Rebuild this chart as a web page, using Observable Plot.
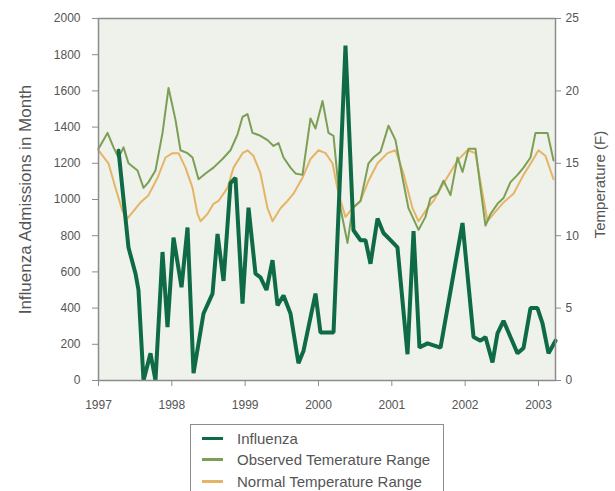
<!DOCTYPE html>
<html>
<head>
<meta charset="utf-8">
<script src="https://cdn.jsdelivr.net/npm/d3@7"></script>
<script src="https://cdn.jsdelivr.net/npm/@observablehq/plot@0.6"></script>
<style>
  html, body { margin: 0; padding: 0; background: #fff; }
  #wrap { position: relative; width: 615px; height: 491px; overflow: hidden; background: #fff;
          font-family: "Liberation Sans", Arial, sans-serif; color: #555; }
  #legend { position: absolute; left: 190px; top: 424px; width: 254px; height: 80px;
            border: 1.5px solid #8c8c8c; box-sizing: border-box; background: #fff; }
  .row { position: absolute; left: 0; height: 20px; display: flex; align-items: center; font-size: 15px; color: #555; white-space: nowrap; }
  .sw { width: 21px; height: 0; margin-left: 11px; margin-right: 14px; }
</style>
</head>
<body>
<div id="wrap"><div id="chart"></div>
  <div id="legend"></div>
</div>
<script>
// ---------- data ----------
const fluYear = [1997.273,1997.409,1997.505,1997.545,1997.614,1997.709,1997.777,1997.873,1997.941,1998.023,
  1998.132,1998.214,1998.296,1998.432,1998.555,1998.623,1998.705,1998.800,1998.868,1998.964,
  1999.046,1999.141,1999.209,1999.291,1999.373,1999.441,1999.523,1999.618,1999.727,1999.796,
  1999.959,2000.027,2000.205,2000.368,2000.477,2000.573,2000.641,2000.709,2000.805,2000.886,
  2000.982,2001.077,2001.214,2001.296,2001.377,2001.486,2001.664,2001.964,2002.114,2002.209,
  2002.277,2002.373,2002.441,2002.523,2002.618,2002.714,2002.796,2002.891,2002.986,2003.055,
  2003.137,2003.232];
const fluValue = [1270,735,590,500,0,150,0,710,295,790,
  515,845,40,370,480,810,550,1090,1120,425,
  955,590,570,500,665,415,470,370,95,165,
  480,265,265,1850,830,775,775,645,895,815,
  775,735,145,825,182,205,182,870,240,220,
  240,100,260,330,240,150,180,400,400,315,
  150,220];

const obsYear = [1997.000,1997.123,1997.205,1997.273,1997.341,1997.409,1997.532,1997.614,1997.682,1997.777,
  1997.873,1997.955,1998.050,1998.118,1998.214,1998.282,1998.364,1998.459,1998.568,1998.691,
  1998.800,1998.896,1998.964,1999.032,1999.100,1999.209,1999.305,1999.386,1999.455,1999.523,
  1999.618,1999.686,1999.782,1999.891,1999.959,2000.055,2000.136,2000.205,2000.300,2000.396,
  2000.464,2000.573,2000.682,2000.750,2000.846,2000.955,2001.050,2001.146,2001.227,2001.364,
  2001.459,2001.527,2001.623,2001.705,2001.800,2001.896,2001.964,2002.046,2002.141,2002.209,
  2002.277,2002.346,2002.441,2002.523,2002.618,2002.714,2002.796,2002.891,2002.959,2003.055,
  2003.123,2003.205];
const obsTemp = [16.0,17.1,16.1,15.4,16.1,15.0,14.5,13.3,13.7,14.5,
  17.1,20.2,18.0,15.9,15.7,15.4,13.9,14.3,14.7,15.3,
  15.9,17.0,18.2,18.4,17.1,16.9,16.6,16.2,16.4,15.4,
  14.7,14.3,14.2,18.1,17.4,19.3,17.1,16.9,11.9,9.5,
  11.9,12.4,15.0,15.4,15.8,17.6,16.6,14.0,11.9,10.4,
  11.3,12.6,12.9,13.8,12.8,15.4,14.4,16.0,16.0,13.3,
  10.7,11.5,12.2,12.6,13.7,14.2,14.7,15.4,17.1,17.1,
  17.1,15.2];

const normYear = [1997.000,1997.136,1997.232,1997.327,1997.395,1997.477,1997.573,1997.682,1997.805,1997.914,
  1998.009,1998.091,1998.186,1998.282,1998.350,1998.391,1998.486,1998.568,1998.636,1998.759,
  1998.841,1998.964,1999.032,1999.114,1999.209,1999.305,1999.373,1999.482,1999.577,1999.659,
  1999.782,1999.891,2000.000,2000.096,2000.191,2000.273,2000.368,2000.464,2000.573,2000.682,
  2000.805,2000.941,2001.050,2001.159,2001.282,2001.364,2001.486,2001.568,2001.705,2001.896,
  2002.032,2002.141,2002.237,2002.305,2002.387,2002.523,2002.659,2002.796,2002.918,2003.000,
  2003.096,2003.205];
const normTemp = [15.9,15.0,13.3,11.7,11.2,11.7,12.3,12.8,14.0,15.4,
  15.7,15.7,14.7,13.3,11.5,11.0,11.5,12.2,12.4,13.3,
  14.7,15.7,15.9,15.5,14.3,11.9,11.0,11.9,12.4,12.9,
  14.0,15.3,15.9,15.7,15.0,12.9,11.3,11.9,12.4,13.8,
  15.0,15.7,15.9,14.3,11.9,11.0,11.9,12.4,13.6,15.2,
  15.9,15.7,12.9,11.0,11.5,12.3,12.9,14.2,15.2,15.9,
  15.5,13.9];

const xTicks = [1997, 1998, 1999, 2000, 2001, 2002, 2003];
const leftTicks = [0, 200, 400, 600, 800, 1000, 1200, 1400, 1600, 1800, 2000];
const rightTicks = [0, 5, 10, 15, 20, 25];
const seriesNames = ["Influenza", "Observed Temerature Range", "Normal Temperature Range"];
const seriesColors = ["#0f6a46", "#7c9f55", "#e6b466"];
const leftLabel = "Influenza Admissions in Month";
const rightLabel = "Temperature (F)";

// ---------- build ----------
const K = 2000 / 25; // temperature -> admissions scale
const flu = fluYear.map((x, i) => ({x, y: fluValue[i]}));
const obs = obsYear.map((x, i) => ({x, y: obsTemp[i] * K}));
const norm = normYear.map((x, i) => ({x, y: normTemp[i] * K}));

const chart = Plot.plot({
  width: 615, height: 418,
  marginLeft: 98, marginRight: 60, marginTop: 18, marginBottom: 38,
  x: {domain: [1997, 2003.232]},
  y: {domain: [0, 2000]},
  style: {fontFamily: "'Liberation Sans', Arial, sans-serif", fontSize: "12px", color: "#555", background: "transparent", overflow: "visible"},
  marks: [
    Plot.frame({fill: "#eef2ea", stroke: null}),
    Plot.line(norm, {x: "x", y: "y", stroke: seriesColors[2], strokeWidth: 2}),
    Plot.line(obs, {x: "x", y: "y", stroke: seriesColors[1], strokeWidth: 2}),
    Plot.line(flu, {x: "x", y: "y", stroke: seriesColors[0], strokeWidth: 4, strokeLinejoin: "miter"}),
    Plot.frame({stroke: "#8c8c8c", strokeWidth: 1.5}),
    Plot.axisX({ticks: xTicks, tickFormat: "d", tickSize: 6, tickPadding: 14, label: null, stroke: "#8c8c8c"}),
    Plot.axisY({ticks: leftTicks, tickSize: 6, tickPadding: 12, label: null, tickFormat: "d", stroke: "#8c8c8c"}),
    Plot.axisY({anchor: "right", ticks: rightTicks.map(t => t * K), tickFormat: d => d / K, tickSize: 5, tickPadding: 5, label: null, stroke: "#8c8c8c"}),
    Plot.text([leftLabel], {frameAnchor: "left", textAnchor: "middle", rotate: -90, dx: -73, fontSize: 17, fill: "#555"}),
    Plot.text([rightLabel], {frameAnchor: "right", textAnchor: "middle", rotate: -90, dx: 45, dy: -15, fontSize: 15, fill: "#555"})
  ]
});
document.getElementById("chart").appendChild(chart);

const legend = document.getElementById("legend");
seriesNames.forEach((name, i) => {
  const row = document.createElement("div");
  row.className = "row";
  row.style.top = (3 + i * 21.5) + "px";
  const sw = document.createElement("div");
  sw.className = "sw";
  sw.style.borderTop = "3px solid " + seriesColors[i];
  const t = document.createElement("span");
  t.textContent = name;
  row.appendChild(sw); row.appendChild(t);
  legend.appendChild(row);
});
</script>
</body>
</html>
